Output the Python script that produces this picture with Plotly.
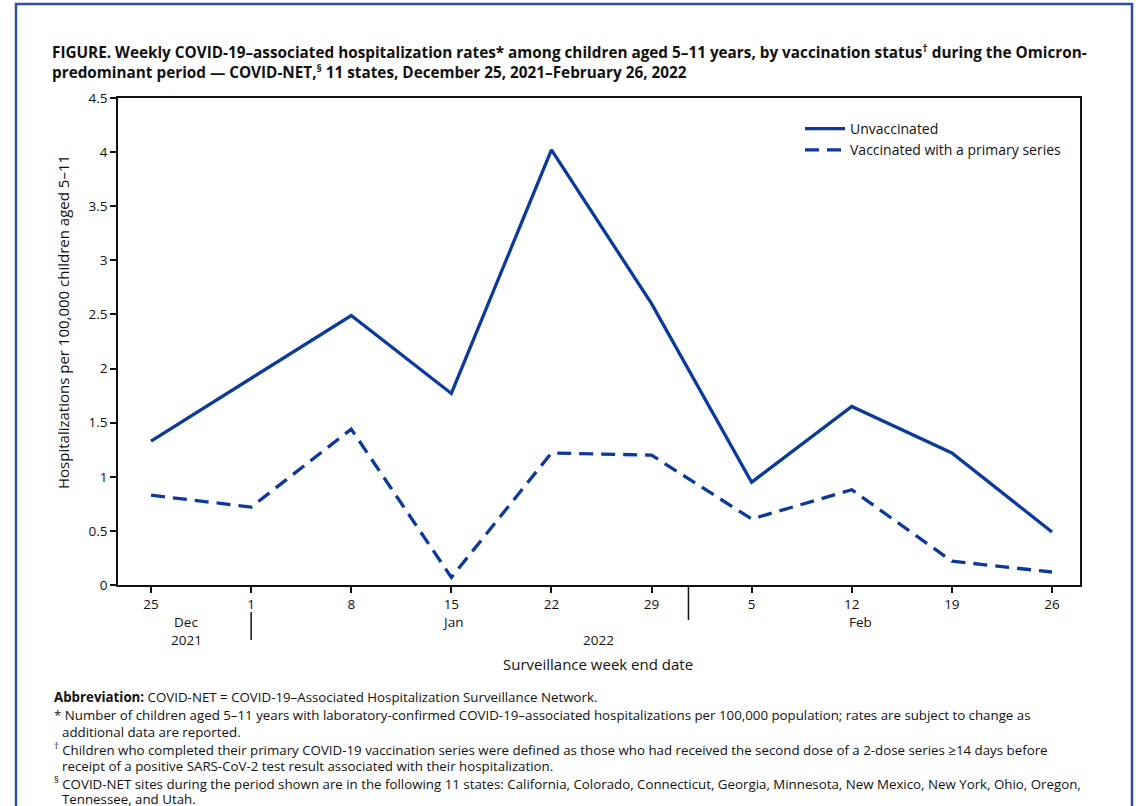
import plotly.graph_objects as go

weeks = ["25", "1", "8", "15", "22", "29", "5", "12", "19", "26"]
unvaccinated = [1.33, 1.91, 2.49, 1.77, 4.02, 2.60, 0.95, 1.65, 1.22, 0.49]
vaccinated = [0.83, 0.72, 1.44, 0.07, 1.22, 1.20, 0.61, 0.88, 0.22, 0.12]
y_ticks = [0, 0.5, 1, 1.5, 2, 2.5, 3, 3.5, 4, 4.5]
y_ticktext = ["0", "0.5", "1", "1.5", "2", "2.5", "3", "3.5", "4", "4.5"]

LINE = "#0b3a9c"
FONT = "Open Sans"

# pixel helpers (plot area: x 118..1080, y 98..585)
L, R, T, B = 118, 1080, 98, 585
def px(x):
    return (x - L) / (R - L)
def py(y):
    return (B - y) / (B - T)

x = list(range(len(weeks)))
fig = go.Figure()
fig.add_trace(go.Scatter(x=x, y=unvaccinated, mode="lines", name="Unvaccinated",
                         line=dict(color=LINE, width=3.3)))
fig.add_trace(go.Scatter(x=x, y=vaccinated, mode="lines", name="Vaccinated with a primary series",
                         line=dict(color=LINE, width=3.3, dash="14px,8px")))

fig.update_layout(
    width=1142, height=806,
    margin=dict(l=L, r=1142 - R, t=T, b=806 - B),
    paper_bgcolor="white", plot_bgcolor="white",
    font=dict(family=FONT, size=13, color="#111"),
    showlegend=True,
    legend=dict(x=px(800), y=py(113), xanchor="left", yanchor="top",
                bgcolor="rgba(0,0,0,0)", font=dict(size=14), tracegroupgap=2,
                itemwidth=40),
    xaxis=dict(range=[-0.33, 9.28], tickmode="array", tickvals=x, ticktext=weeks,
               showgrid=False, zeroline=False, showline=True, linecolor="#111",
               linewidth=1.5, mirror=True, ticks="outside", ticklen=6, tickwidth=1.5,
               tickcolor="#111", tickfont=dict(size=13.5)),
    yaxis=dict(range=[0, 4.5], tickmode="array", tickvals=y_ticks, ticktext=y_ticktext,
               showgrid=False, zeroline=False, showline=True, linecolor="#111",
               linewidth=1.5, mirror=True, ticks="outside", ticklen=6, tickwidth=1.5,
               tickcolor="#111", tickfont=dict(size=13.5)),
)

title1 = ("<b>FIGURE. Weekly COVID-19–associated hospitalization rates* among children aged 5–11 years, "
          "by vaccination status<sup>†</sup> during the Omicron-</b>")
title2 = "<b>predominant period — COVID-NET,<sup>§</sup> 11 states, December 25, 2021–February 26, 2022</b>"

ann = []
def add(text, xp, yp, xanchor="left", size=13, **kw):
    ann.append(dict(text=text, x=px(xp), y=py(yp), xref="paper", yref="paper",
                    xanchor=xanchor, yanchor="middle", showarrow=False,
                    font=dict(size=size, family=FONT, color="#111"), **kw))

add(title1, 50, 51, size=15.3)
add(title2, 50, 71, size=15.3)
add("Dec", 186, 622, "center", size=13.5)
add("2021", 186, 640, "center", size=13.5)
add("Jan", 452, 622, "center", size=13.5)
add("2022", 598, 640, "center", size=13.5)
add("Feb", 860, 622, "center", size=13.5)
add("Surveillance week end date", 598, 664, "center", size=15)
ann.append(dict(text="Hospitalizations per 100,000 children aged 5–11", x=px(63), y=py(322),
                xref="paper", yref="paper", xanchor="center", yanchor="middle",
                showarrow=False, textangle=-90, font=dict(size=15, family=FONT, color="#111")))

foot = [
    (52, 697, "<b>Abbreviation:</b> COVID-NET = COVID-19–Associated Hospitalization Surveillance Network."),
    (52, 715, "* Number of children aged 5–11 years with laboratory-confirmed COVID-19–associated hospitalizations per 100,000 population; rates are subject to change as"),
    (60, 732, "additional data are reported."),
    (52, 749, "<sup>†</sup> Children who completed their primary COVID-19 vaccination series were defined as those who had received the second dose of a 2-dose series ≥14 days before"),
    (60, 766, "receipt of a positive SARS-CoV-2 test result associated with their hospitalization."),
    (52, 783, "<sup>§</sup> COVID-NET sites during the period shown are in the following 11 states: California, Colorado, Connecticut, Georgia, Minnesota, New Mexico, New York, Ohio, Oregon,"),
    (60, 799, "Tennessee, and Utah."),
]
for xp, yp, t in foot:
    add(t, xp, yp, size=13.3)

fig.update_layout(annotations=ann)

shapes = [
    # outer blue frame
    dict(type="rect", xref="paper", yref="paper", x0=px(16), x1=px(1132), y0=py(830), y1=py(4),
         line=dict(color="#2c4f9e", width=2.5), fillcolor="rgba(0,0,0,0)", layer="above"),
    # Dec/Jan separator
    dict(type="line", xref="x", yref="paper", x0=1, x1=1, y0=py(612), y1=py(640),
         line=dict(color="#111", width=1.5)),
    # Jan/Feb separator
    dict(type="line", xref="x", yref="paper", x0=5 + 3 / 7 - 0.06, x1=5 + 3 / 7 - 0.06,
         y0=py(585), y1=py(620), line=dict(color="#111", width=1.5)),
]
fig.update_layout(shapes=shapes)

fig.write_html("out.html", config={"displayModeBar": False},
               post_script="document.body.style.margin='0';")
